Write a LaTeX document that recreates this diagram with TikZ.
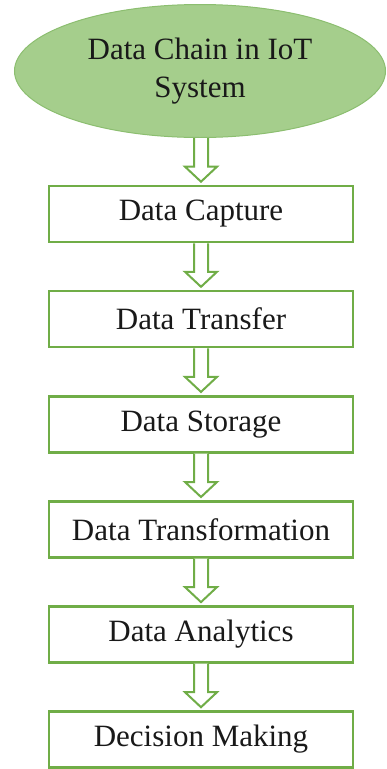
\documentclass[tikz,border=0pt]{standalone}
\usepackage{fontspec}
\setmainfont{Liberation Serif}
\usetikzlibrary{shapes.geometric,calc}
\definecolor{boxgreen}{RGB}{112,173,71}
\definecolor{ellfill}{RGB}{165,206,140}
\definecolor{ellline}{RGB}{140,190,112}
\definecolor{txt}{RGB}{25,25,25}
\tikzset{
  stepbox/.style={draw=boxgreen, line width=2.6pt, fill=white, minimum width=304pt, minimum height=56pt, inner sep=0pt, text=txt, font=\fontsize{31}{38}\selectfont},
  title/.style={ellipse, draw=ellline, line width=1pt, fill=ellfill, minimum width=371pt, minimum height=133pt, inner sep=0pt, text=txt, align=center, font=\fontsize{31}{38}\selectfont},
  barrow/.style={draw=boxgreen, line width=2pt, fill=white, line join=miter}
}
\begin{document}
\begin{tikzpicture}[x=1pt,y=-1pt]
\useasboundingbox (0,0) rectangle (386,769);
\node[title] (t) at (200,71) {Data Chain in IoT\\System};
\node[stepbox] (b1) at (201,214) {Data Capture};
\node[stepbox] (b2) at (201,319.1) {Data Transfer};
\node[stepbox] (b3) at (201,424.2) {Data Storage};
\node[stepbox] (b4) at (201,529.3) {Data Transformation};
\node[stepbox] (b5) at (201,634.4) {Data Analytics};
\node[stepbox] (b6) at (201,739.5) {Decision Making};
\foreach \a/\b in {t/b1,b1/b2,b2/b3,b3/b4,b4/b5,b5/b6}{
  \coordinate (s) at (\b.north |- \a.south);
  \coordinate (e) at ($(\b.north)+(0,-3)$);
  \draw[barrow] ($(s)+(-7,0)$) -- ($(\b.north)+(-7,-18)$) -- ($(\b.north)+(-16,-18)$) -- (e) -- ($(\b.north)+(16,-18)$) -- ($(\b.north)+(7,-18)$) -- ($(s)+(7,0)$);
}
\end{tikzpicture}
\end{document}
